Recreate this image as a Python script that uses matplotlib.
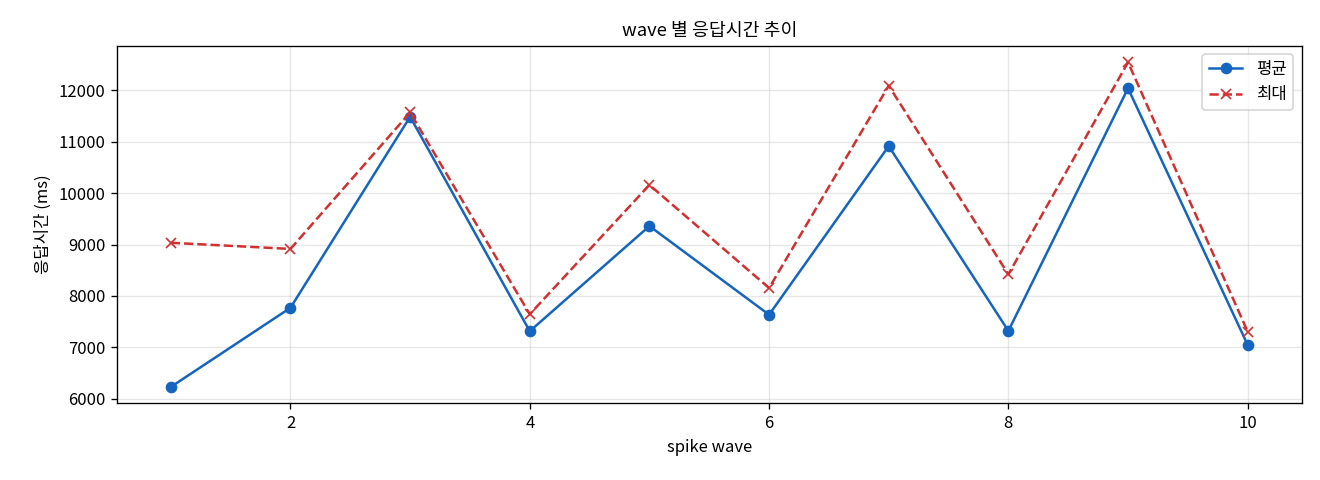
import numpy as np
import matplotlib
matplotlib.use('Agg')
from matplotlib import pyplot as plt

plt.rcParams['font.family'] = ['Noto Sans CJK KR', 'DejaVu Sans']
plt.rcParams['axes.unicode_minus'] = False

# spike wave 별 응답시간 (ms)
waves = [1, 2, 3, 4, 5, 6, 7, 8, 9, 10]
avg_ms = [6230, 7770, 11485, 7315, 9360, 7635, 10915, 7320, 12040, 7048]
max_ms = [9035, 8915, 11570, 7645, 10160, 8155, 12090, 8420, 12545, 7306]

fig, ax = plt.subplots(figsize=(11, 4), dpi=120)
fig.subplots_adjust(left=0.0886, right=0.986, bottom=0.160, top=0.904)

ax.plot(waves, avg_ms, marker='o', linestyle='-', color='#1565C0',
        linewidth=1.5, markersize=6, label='평균')
ax.plot(waves, max_ms, marker='x', linestyle='--', color='#D32F2F',
        linewidth=1.5, markersize=6, label='최대')

ax.set_title('wave 별 응답시간 추이', fontsize=11)
ax.set_xlabel('spike wave', fontsize=10)
ax.set_ylabel('응답시간 (ms)', fontsize=10)
ax.tick_params(labelsize=10)
ax.grid(True, alpha=0.3)
ax.legend(loc='upper right', fontsize=10)

fig.savefig('out.png', dpi=120)
